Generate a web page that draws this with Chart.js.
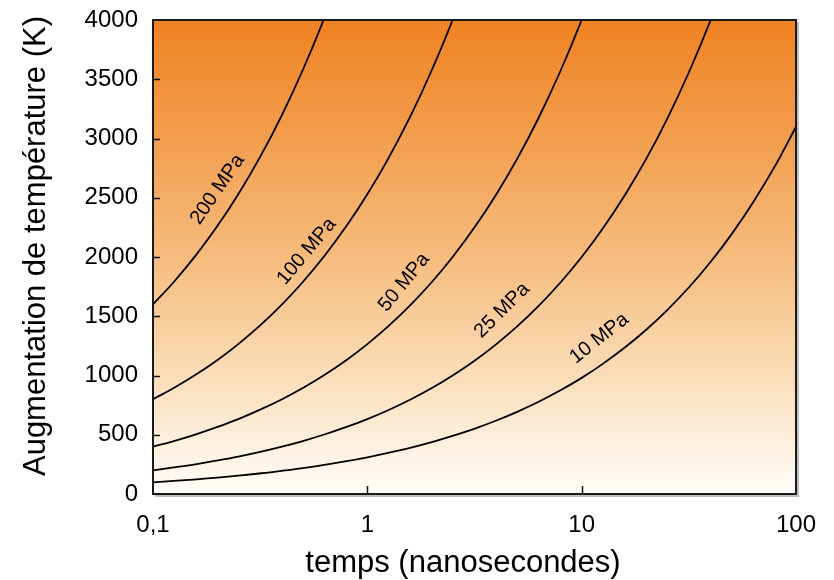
<!DOCTYPE html>
<html lang="fr">
<head>
<meta charset="utf-8">
<title>Augmentation de température</title>
<script src="https://cdn.jsdelivr.net/npm/chart.js@4.4.1/dist/chart.umd.min.js"></script>
<style>
  html, body { margin: 0; padding: 0; background: #ffffff; }
  #wrap { width: 834px; height: 580px; }
</style>
</head>
<body>
<div id="wrap"><canvas id="c" width="834" height="580"></canvas></div>
<script>
// Temps (ns) at which each curve is sampled (ten steps per decade)
const tempsNs = [
  0.1, 0.125, 0.16, 0.2, 0.25, 0.32, 0.4, 0.5, 0.63, 0.8,
  1, 1.25, 1.6, 2, 2.5, 3.2, 4, 5, 6.3, 8,
  10, 12.5, 16, 20, 25, 32, 40, 50, 63, 80,
  100
];

// Augmentation de température (K) for each pressure; a curve stops once it leaves the top of the frame
const hausse200MPa = [1600, 1789, 2024, 2263, 2530, 2862, 3200, 3578, 4016, 4525];
const hausse100MPa = [800, 894, 1012, 1131, 1265, 1431, 1600, 1789, 2008, 2263,
                      2530, 2828, 3200, 3578, 4000, 4525];
const hausse50MPa  = [400, 447, 506, 566, 632, 716, 800, 894, 1004, 1131,
                      1265, 1414, 1600, 1789, 2000, 2263, 2530, 2828, 3175, 3578,
                      4000, 4472];
const hausse25MPa  = [200, 224, 253, 283, 316, 358, 400, 447, 502, 566,
                      632, 707, 800, 894, 1000, 1131, 1265, 1414, 1587, 1789,
                      2000, 2236, 2530, 2828, 3162, 3578, 4000, 4472];
const hausse10MPa  = [98, 110, 124, 139, 155, 175, 196, 219, 246, 277,
                      310, 347, 392, 438, 490, 554, 620, 693, 778, 877,
                      980, 1096, 1240, 1386, 1550, 1753, 1960, 2191, 2460, 2771,
                      3099];

const nomsCourbes = ['200 MPa', '100 MPa', '50 MPa', '25 MPa', '10 MPa'];
const valeursCourbes = [hausse200MPa, hausse100MPa, hausse50MPa, hausse25MPa, hausse10MPa];

// Axis ticks
const xTickValues = [0.1, 1, 10, 100];
const xTickLabels = ['0,1', '1', '10', '100'];
const yTickValues = [0, 500, 1000, 1500, 2000, 2500, 3000, 3500, 4000];

// Where each curve name sits (data coordinates) and its slant
const etiquettes = [
  { texte: '200 MPa', t: 0.200, k: 2570, angle: -55.5 },
  { texte: '100 MPa', t: 0.522, k: 2047, angle: -50 },
  { texte: '50 MPa',  t: 1.485, k: 1786, angle: -51 },
  { texte: '25 MPa',  t: 4.25,  k: 1549, angle: -45 },
  { texte: '10 MPa',  t: 12.08, k: 1313, angle: -38.5 }
];

const FONT = '"Liberation Sans", Arial, Helvetica, sans-serif';

const datasets = valeursCourbes.map((vals, i) => ({
  label: nomsCourbes[i],
  data: vals.map((v, j) => ({ x: tempsNs[j], y: v })),
  borderColor: '#000000',
  borderWidth: 1.8,
  pointRadius: 0,
  fill: false,
  tension: 0.4
}));

// Orange-to-white wash behind the curves
const fondDegrade = {
  id: 'fondDegrade',
  beforeDraw(chart) {
    const { ctx, chartArea: a } = chart;
    const g = ctx.createLinearGradient(0, a.top, 0, a.bottom);
    g.addColorStop(0.00, 'rgb(240,130,34)');
    g.addColorStop(0.25, 'rgb(242,158,78)');
    g.addColorStop(0.50, 'rgb(246,188,126)');
    g.addColorStop(0.75, 'rgb(250,221,184)');
    g.addColorStop(1.00, 'rgb(255,253,250)');
    ctx.save();
    ctx.fillStyle = g;
    ctx.fillRect(a.left, a.top, a.right - a.left, a.bottom - a.top);
    ctx.restore();
  }
};

// Frame, inward tick marks, curve names and axis titles
const habillage = {
  id: 'habillage',
  afterDatasetsDraw(chart) {
    const { ctx, chartArea: a, scales } = chart;
    const xs = scales.x, ys = scales.y;
    ctx.save();
    // inward tick marks
    ctx.strokeStyle = '#111';
    ctx.lineWidth = 1.5;
    ctx.beginPath();
    yTickValues.forEach(v => {
      if (v <= ys.min || v >= ys.max) return;
      const y = Math.round(ys.getPixelForValue(v)) + 0.5;
      ctx.moveTo(a.left, y);
      ctx.lineTo(a.left + 7, y);
    });
    xTickValues.forEach(v => {
      if (v <= xs.min || v >= xs.max) return;
      const x = Math.round(xs.getPixelForValue(v)) + 0.5;
      ctx.moveTo(x, a.bottom);
      ctx.lineTo(x, a.bottom - 8);
    });
    ctx.stroke();

    // soft shadow on right and bottom
    ctx.strokeStyle = 'rgba(0,0,0,0.25)';
    ctx.lineWidth = 2;
    ctx.beginPath();
    ctx.moveTo(a.right + 2, a.top + 2);
    ctx.lineTo(a.right + 2, a.bottom + 2);
    ctx.lineTo(a.left + 2, a.bottom + 2);
    ctx.stroke();

    // frame
    ctx.strokeStyle = '#1a1a1a';
    ctx.lineWidth = 2;
    ctx.strokeRect(a.left, a.top, a.right - a.left, a.bottom - a.top);

    // curve names
    ctx.fillStyle = '#000';
    ctx.font = '20px ' + FONT;
    ctx.textAlign = 'center';
    ctx.textBaseline = 'middle';
    etiquettes.forEach(e => {
      const x = xs.getPixelForValue(e.t);
      const y = ys.getPixelForValue(e.k);
      ctx.save();
      ctx.translate(x, y);
      ctx.rotate(e.angle * Math.PI / 180);
      ctx.fillText(e.texte, 0, 0);
      ctx.restore();
    });

    // axis titles
    ctx.font = '31px ' + FONT;
    ctx.fillText('temps (nanosecondes)', 463, 563);
    ctx.save();
    ctx.translate(36, 246);
    ctx.rotate(-Math.PI / 2);
    ctx.fillText('Augmentation de température (K)', 0, 0);
    ctx.restore();
    ctx.restore();
  }
};

new Chart(document.getElementById('c'), {
  type: 'line',
  data: { datasets },
  options: {
    responsive: false,
    animation: false,
    events: [],
    layout: { padding: { top: 20, right: 38, left: 0, bottom: 0 } },
    plugins: { legend: { display: false }, tooltip: { enabled: false } },
    scales: {
      x: {
        type: 'logarithmic',
        min: 0.1,
        max: 100,
        grid: { display: false, drawTicks: false },
        border: { display: false },
        afterBuildTicks: s => { s.ticks = xTickValues.map(v => ({ value: v })); },
        afterFit: s => { s.height = 86; s.paddingLeft = 0; s.paddingRight = 0; },
        ticks: {
          autoSkip: false,
          maxRotation: 0,
          padding: 17,
          color: '#000',
          font: { family: FONT, size: 24 },
          callback: (v, i) => xTickLabels[i]
        }
      },
      y: {
        type: 'linear',
        min: 0,
        max: 4000,
        grid: { display: false, drawTicks: false },
        border: { display: false },
        afterBuildTicks: s => { s.ticks = yTickValues.map(v => ({ value: v })); },
        afterFit: s => { s.width = 153; s.paddingTop = 0; s.paddingBottom = 0; },
        ticks: {
          padding: 15,
          color: '#000',
          font: { family: FONT, size: 24 },
          callback: v => String(v)
        }
      }
    }
  },
  plugins: [fondDegrade, habillage]
});
</script>
</body>
</html>
